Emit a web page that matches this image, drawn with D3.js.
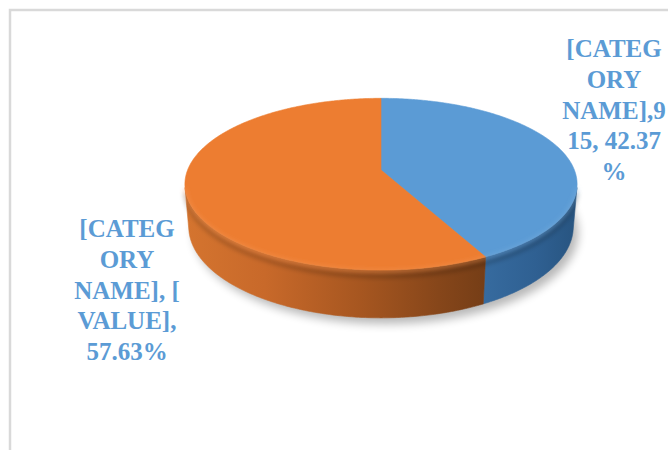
<!DOCTYPE html>
<html>
<head>
<meta charset="utf-8">
<script src="https://cdn.jsdelivr.net/npm/d3@7"></script>
<style>
  html, body { margin: 0; padding: 0; background: #fff; }
  svg { display: block; }
</style>
</head>
<body>
<div id="chart"></div>
<script>
// Share of each slice (percent) and the value / category text of its label
const categories = ["[CATEGORY NAME]", "[CATEGORY NAME]"];
const percents = [42.37, 57.63];
const valueTexts = ["915", "[VALUE]"];
const sliceColors = ["#5b9bd5", "#ed7d31"];
// Data labels, wrapped line by line as they are shown
const labelLines = [
  ["[CATEG", "ORY", "NAME],9", "15, 42.37", "%"],
  ["[CATEG", "ORY", "NAME], [", "VALUE],", "57.63%"]
];

const W = 668, H = 450;
const svg = d3.select("#chart").append("svg")
  .attr("width", W).attr("height", H);

const defs = svg.append("defs");

// chart area border
svg.append("rect")
  .attr("x", 10).attr("y", 10)
  .attr("width", W + 20).attr("height", H + 20)
  .attr("fill", "none").attr("stroke", "#d9d9d9").attr("stroke-width", 2.5);

// ---- perspective projection of a tilted disc ----
const cx = 381, cy = 170;       // screen position of the disc centre
const F = 1054, D = 5.45;       // focal length, camera distance
const sinA = 0.432, cosA = Math.sqrt(1 - sinA * sinA);
const thick = 0.245;            // disc height (radius = 1)

// phi: pie angle (0 at top, clockwise); y: 0 for top face, -thick for bottom
function project(phi, y) {
  const x = Math.sin(phi), z = -Math.cos(phi);
  const up = y * cosA - z * sinA;
  const depth = D - (z * cosA + y * sinA);
  return [cx + F * x / depth, cy - F * up / depth];
}

function arcPoints(a0, a1, y) {
  const n = Math.max(2, Math.ceil(Math.abs(a1 - a0) / 0.01));
  return d3.range(n + 1).map(i => project(a0 + (a1 - a0) * i / n, y));
}

const line = d3.line();

const pie = d3.pie().sort(null).value(d => d);
const slices = pie(percents);

// angles where the outer wall faces the camera
const visHalf = Math.acos(-1 / (D * cosA));
const visMin = visHalf, visMax = 2 * Math.PI - visHalf;

// shadow under the disc
defs.append("filter").attr("id", "shadowBlur")
  .attr("x", "-20%").attr("y", "-20%").attr("width", "140%").attr("height", "140%")
  .append("feGaussianBlur").attr("stdDeviation", 5);

svg.append("path")
  .attr("d", line(arcPoints(0, 2 * Math.PI, -thick)) + "Z")
  .attr("transform", "translate(5,6)")
  .attr("fill", "#000").attr("opacity", 0.28)
  .attr("filter", "url(#shadowBlur)");

// wall gradients, spread across the whole disc width
const xLeft = project(-Math.PI / 2, 0)[0], xRight = project(Math.PI / 2, 0)[0];
const wallStops = [
  [[0, "#d4742f"], [0.2, "#c8692a"], [0.45, "#a65620"], [0.65, "#86461a"], [0.85, "#6a3814"], [1, "#5a3011"]],
  [[0, "#d4742f"], [0.2, "#c8692a"], [0.45, "#a65620"], [0.65, "#86461a"], [0.85, "#6a3814"], [1, "#5a3011"]]
];
const blueStops = [[0, "#4a86c0"], [0.7, "#3a70a5"], [0.9, "#2f6092"], [1, "#285581"]];

function makeGrad(id, stops) {
  const g = defs.append("linearGradient").attr("id", id)
    .attr("gradientUnits", "userSpaceOnUse")
    .attr("x1", xLeft).attr("x2", xRight).attr("y1", 0).attr("y2", 0);
  stops.forEach(s => g.append("stop").attr("offset", s[0]).attr("stop-color", s[1]));
}
makeGrad("wall0", blueStops);
makeGrad("wall1", wallStops[1]);

// outer walls, drawn back to front
const walls = slices.map((s, i) => {
  const a0 = Math.max(s.startAngle, visMin), a1 = Math.min(s.endAngle, visMax);
  return { i, a0, a1 };
}).filter(w => w.a1 > w.a0);

svg.append("g").selectAll("path").data(walls).join("path")
  .attr("d", w => line(arcPoints(w.a0, w.a1, 0).concat(arcPoints(w.a1, w.a0, -thick))) + "Z")
  .attr("fill", w => `url(#wall${w.i})`)
  .attr("stroke", w => `url(#wall${w.i})`).attr("stroke-width", 0.6);

// soft bevel where the top meets the wall
defs.append("filter").attr("id", "bevelBlur")
  .append("feGaussianBlur").attr("stdDeviation", 2.2);
svg.append("path")
  .attr("d", line(arcPoints(visMin, visMax, -0.03)))
  .attr("fill", "none").attr("stroke", "#000").attr("stroke-opacity", 0.18)
  .attr("stroke-width", 5).attr("filter", "url(#bevelBlur)");

// top faces
svg.append("g").selectAll("path").data(slices).join("path")
  .attr("d", s => line([project(0, 0).map((v, k) => k === 0 ? cx : cy)]
      .concat(arcPoints(s.startAngle, s.endAngle, 0))) + "Z")
  .attr("fill", (s, i) => sliceColors[i])
  .attr("stroke", (s, i) => sliceColors[i]).attr("stroke-width", 0.6);

// light rim along the front edge of the top face
svg.append("g").selectAll("path").data(walls).join("path")
  .attr("d", w => line(arcPoints(w.a0, w.a1, -0.004)))
  .attr("fill", "none")
  .attr("stroke", w => w.i === 1 ? "#f59a5c" : "#7fb2e0")
  .attr("stroke-opacity", 0.55).attr("stroke-width", 2.5)
  .attr("filter", "url(#bevelBlur)");

// data labels
const labelPos = [[614, 57], [127, 237]];
const lineGap = 30.8;
const labels = svg.append("g")
  .attr("font-family", "'Liberation Serif', 'Times New Roman', serif")
  .attr("font-weight", "bold").attr("font-size", 25)
  .attr("fill", "#5b9bd5").attr("text-anchor", "middle");

labels.selectAll("text").data(labelLines).join("text")
  .attr("x", (d, i) => labelPos[i][0])
  .attr("y", (d, i) => labelPos[i][1])
  .selectAll("tspan").data((d, i) => d.map(t => ({ t, i }))).join("tspan")
  .attr("x", d => labelPos[d.i][0])
  .attr("dy", (d, j) => j === 0 ? 0 : lineGap)
  .text(d => d.t);
</script>
</body>
</html>
